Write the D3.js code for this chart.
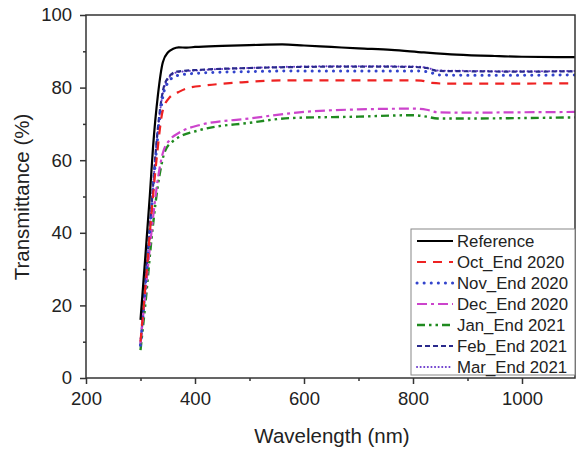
<!DOCTYPE html>
<html>
<head>
<meta charset="utf-8">
<script src="https://cdn.jsdelivr.net/npm/d3@7"></script>
<style>
  body { margin: 0; background: #fff; }
  svg { font-family: "Liberation Sans", Arial, sans-serif; }
</style>
</head>
<body>
<div id="chart"></div>
<script>
// data: [wavelength nm, transmittance %]
var reference = [[300,16],[308,31.7],[317,50],[323,63.6],[332,78],[341,87],[351,89.8],[360,90.7],[370,91.1],[385,91.0],[400,91.2],[450,91.5],[500,91.7],[560,91.9],[600,91.6],[650,91.2],[700,90.8],[760,90.4],[820,89.7],[880,89.1],[950,88.7],[1000,88.5],[1100,88.4]];
var octEnd = [[300,10],[310,27],[320,45],[330,61],[341,73.8],[354,77.4],[370,78.8],[385,79.8],[420,80.6],[480,81.4],[560,82],[620,82],[700,82],[790,82],[815,81.9],[835,81.3],[860,81.1],[950,81.1],[1100,81.2]];
var novEnd = [[300,9],[310,27],[320,46],[332,67],[341,77.5],[351,81.5],[367,83.3],[409,84],[500,84.4],[600,84.6],[700,84.6],[800,84.6],[830,84.3],[845,83.5],[900,83.4],[1000,83.4],[1100,83.5]];
var decEnd = [[300,9.5],[310,25],[320,40],[332,55],[341,62],[355,65.8],[370,67.5],[409,69.7],[500,71.5],[600,73.3],[700,74],[800,74.2],[825,73.9],[845,73.2],[900,73.1],[1000,73.2],[1100,73.3]];
var janEnd = [[300,7.7],[310,22],[320,38],[335,56],[345,62.5],[360,65.3],[409,68.3],[500,70.3],[574,71.6],[700,72],[800,72.4],[825,72],[845,71.5],[900,71.5],[1000,71.6],[1100,71.8]];
var febEnd = [[300,9],[310,28],[320,47],[332,69],[341,79],[351,82.8],[367,84.4],[409,84.9],[500,85.4],[600,85.7],[700,85.8],[800,85.7],[825,85.4],[845,84.6],[900,84.5],[1000,84.4],[1100,84.5]];
var marEnd = [[300,9.3],[310,28],[320,47],[332,68.5],[341,78.5],[351,82.5],[367,84.2],[409,84.8],[500,85.4],[600,85.8],[700,85.9],[800,85.8],[825,85.5],[845,84.7],[900,84.6],[1000,84.5],[1100,84.6]];

var seriesNames = ["Reference", "Oct_End 2020", "Nov_End 2020", "Dec_End 2020", "Jan_End 2021", "Feb_End 2021", "Mar_End 2021"];
var seriesData = [reference, octEnd, novEnd, decEnd, janEnd, febEnd, marEnd];
var xTicks = [200, 400, 600, 800, 1000];
var yTicks = [0, 20, 40, 60, 80, 100];

var styles = [
  {color: "#000000", dash: null, width: 2.2, cap: "butt"},
  {color: "#ee2222", dash: "9,7", width: 2.2, cap: "butt"},
  {color: "#3344cc", dash: "0.1,7", width: 3, cap: "round"},
  {color: "#cc44cc", dash: "10,4,3,4", width: 2.2, cap: "butt"},
  {color: "#1f8a1f", dash: "8,4,2.5,4,2.5,4", width: 2.4, cap: "butt"},
  {color: "#2a2a8c", dash: "5,3", width: 2.2, cap: "butt"},
  {color: "#6a3acc", dash: "0.1,3.5", width: 2, cap: "round"}
];

var W = 577, H = 452;
var pLeft = 86, pRight = 575, pTop = 15, pBottom = 378;

var svg = d3.select("#chart").append("svg")
  .attr("width", W)
  .attr("height", H);

var x = d3.scaleLinear().domain([200, 1100]).range([pLeft, pRight + 1.5]);
var y = d3.scaleLinear().domain([0, 100]).range([pBottom, pTop]);

// curves
var line = d3.line()
  .x(function (d) { return x(d[0]); })
  .y(function (d) { return y(d[1]); })
  .curve(d3.curveMonotoneX);

var plot = svg.append("g");
plot.append("clipPath").attr("id", "clip")
  .append("rect").attr("x", pLeft).attr("y", pTop).attr("width", pRight - pLeft).attr("height", pBottom - pTop);

// draw back-to-front so Reference stays on top
for (var i = seriesData.length - 1; i >= 0; i--) {
  plot.append("path")
    .attr("clip-path", "url(#clip)")
    .attr("d", line(seriesData[i]))
    .attr("fill", "none")
    .attr("stroke", styles[i].color)
    .attr("stroke-width", styles[i].width)
    .attr("stroke-dasharray", styles[i].dash)
    .attr("stroke-linecap", styles[i].cap);
}

// frame
svg.append("rect")
  .attr("x", pLeft).attr("y", pTop)
  .attr("width", pRight - pLeft).attr("height", pBottom - pTop)
  .attr("fill", "none")
  .attr("stroke", "#333")
  .attr("stroke-width", 1.5);

// axes
var xAxis = d3.axisBottom(x).tickValues(xTicks).tickSize(6).tickSizeOuter(0).tickPadding(8).tickFormat(d3.format("d"));
var xMinor = d3.axisBottom(x).tickValues([300, 500, 700, 900]).tickSize(3).tickSizeOuter(0).tickFormat("");
var yAxis = d3.axisLeft(y).tickValues(yTicks).tickSize(6).tickSizeOuter(0).tickPadding(8);
var yMinor = d3.axisLeft(y).tickValues([10, 30, 50, 70, 90]).tickSize(3).tickSizeOuter(0).tickFormat("");

function styleAxis(g) {
  g.select(".domain").remove();
  g.selectAll("line").attr("stroke", "#333").attr("stroke-width", 1.5);
  g.selectAll("text").attr("fill", "#222").style("font-size", "18.5px");
}

svg.append("g").attr("transform", "translate(0," + pBottom + ")").call(xAxis).call(styleAxis);
svg.append("g").attr("transform", "translate(0," + pBottom + ")").call(xMinor).call(styleAxis);
svg.append("g").attr("transform", "translate(" + pLeft + ",0)").call(yAxis).call(styleAxis);
svg.append("g").attr("transform", "translate(" + pLeft + ",0)").call(yMinor).call(styleAxis);

// axis titles
svg.append("text")
  .attr("x", 332).attr("y", 443)
  .attr("text-anchor", "middle")
  .attr("fill", "#222")
  .style("font-size", "20.5px")
  .text("Wavelength (nm)");

svg.append("text")
  .attr("transform", "translate(29,197) rotate(-90)")
  .attr("text-anchor", "middle")
  .attr("fill", "#222")
  .style("font-size", "20.5px")
  .text("Transmittance (%)");

// legend
var lg = svg.append("g");
lg.append("rect")
  .attr("x", 411).attr("y", 229)
  .attr("width", pRight - 411).attr("height", 146)
  .attr("fill", "#fff")
  .attr("stroke", "#888")
  .attr("stroke-width", 1);

seriesNames.forEach(function (name, i) {
  var ly = 241 + i * 21;
  lg.append("line")
    .attr("x1", 417).attr("x2", 453)
    .attr("y1", ly).attr("y2", ly)
    .attr("stroke", styles[i].color)
    .attr("stroke-width", styles[i].width)
    .attr("stroke-dasharray", styles[i].dash)
    .attr("stroke-linecap", styles[i].cap);
  lg.append("text")
    .attr("x", 457).attr("y", ly + 6)
    .attr("fill", "#222")
    .style("font-size", "16.8px")
    .text(name);
});
</script>
</body>
</html>
